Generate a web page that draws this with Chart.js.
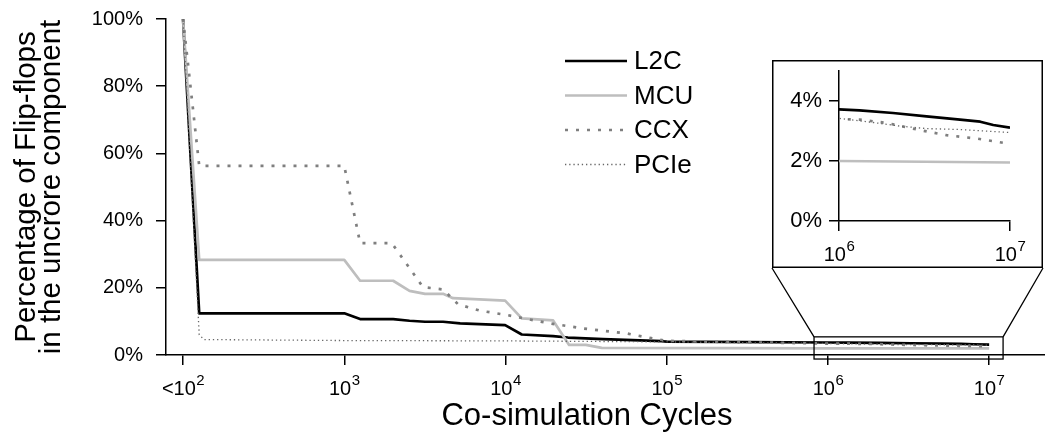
<!DOCTYPE html>
<html><head><meta charset="utf-8">
<script src="https://cdn.jsdelivr.net/npm/chart.js@4.4.1/dist/chart.umd.min.js"></script>
<style>
html,body{margin:0;padding:0;background:#fff;}
#wrap{position:relative;width:1045px;height:444px;overflow:hidden;}
#main{position:absolute;left:0;top:0;}
#inset{position:absolute;}
</style></head><body>
<div id="wrap"><canvas id="main" width="1045" height="444"></canvas><canvas id="inset"></canvas></div>
<script>
// ---------------- DATA ----------------
const seriesNames = ['L2C', 'MCU', 'CCX', 'PCIe'];

const l2cCycles = [100, 126, 1000, 1254, 2010, 2540, 3170, 4100, 5230, 9950, 12620, 19740, 24400, 40300, 93300, 1e5, 1e6, 1.32e6, 2.07e6, 3.25e6, 5.1e6, 6.7e6, 7.98e6, 1e7];
const l2cPct    = [100, 12.4, 12.4, 10.7, 10.7, 10.2, 9.9, 9.9, 9.4, 8.9, 6.1, 5.6, 5.2, 4.7, 4.1, 4.0, 3.72, 3.69, 3.60, 3.49, 3.38, 3.31, 3.2, 3.11];

const mcuCycles = [100, 126, 1000, 1254, 2010, 2540, 3170, 4100, 4730, 9950, 12620, 19740, 24800, 31500, 39500, 1e6, 1e7];
const mcuPct    = [100, 28.3, 28.3, 22.1, 22.1, 19.1, 18.2, 18.2, 16.9, 16.2, 10.9, 10.3, 3.0, 3.0, 2.1, 2.0, 1.95];

const ccxCycles = [100, 126, 1000, 1254, 1970, 3080, 4100, 5080, 6950, 10200, 18900, 30300, 56500, 80000, 1e5, 3e5, 1e6, 1.32e6, 1.89e6, 2.97e6, 4.25e6, 6.36e6, 1e7];
const ccxPct    = [100, 56.3, 56.3, 33.3, 33.3, 20.2, 19.5, 15.1, 13.2, 11.9, 9.4, 7.9, 6.4, 5.0, 4.2, 3.8, 3.4, 3.38, 3.27, 3.03, 2.86, 2.75, 2.57];

const pcieCycles = [100, 126, 135, 1000, 1e4, 1e5, 1e6, 1.5e6, 2.3e6, 3.25e6, 5.1e6, 1e7];
const pciePct    = [100, 6.0, 4.6, 4.3, 4.2, 3.9, 3.42, 3.3, 3.16, 3.08, 3.05, 2.95];

const yTickValues = [0, 20, 40, 60, 80, 100];
const xTickValues = [1e2, 1e3, 1e4, 1e5, 1e6, 1e7];
const xTickBases  = ['<10', '10', '10', '10', '10', '10'];
const xTickExps   = ['2', '3', '4', '5', '6', '7'];

const insetYTickValues = [0, 2, 4];
const insetXTickValues = [1e6, 1e7];
const insetXTickBases  = ['10', '10'];
const insetXTickExps   = ['6', '7'];

// zoomed region in data coordinates (cycles, percent)
const zoomCycles = [8.2e5, 1.22e7];
const zoomPct    = [-1.2, 5.4];

const xTitle = 'Co-simulation Cycles';
const yTitle = ['Percentage of Flip-flops', 'in the uncrore component'];

// ---------------- STYLE / LAYOUT ----------------
const FONT = "'Liberation Sans', Arial, Helvetica, sans-serif";
Chart.defaults.font.family = FONT;
Chart.defaults.color = '#000';

const seriesStyle = [
  { color: '#000000', width: 2.7, dash: [] },
  { color: '#bebebe', width: 2.7, dash: [] },
  { color: '#7f7f7f', width: 2.7, dash: [3, 8] },
  { color: '#666666', width: 1.3, dash: [1.3, 2.9] },
];
const drawOrder = [3, 2, 1, 0];

const insetBox = { left: 772, top: 60, width: 271, height: 208 };
const xTitlePos = { x: 587, y: 425, size: 31 };

function pts(xs, ys) { return xs.map((x, i) => ({ x: x, y: ys[i] })); }
const seriesData = [pts(l2cCycles, l2cPct), pts(mcuCycles, mcuPct), pts(ccxCycles, ccxPct), pts(pcieCycles, pciePct)];

function makeDatasets() {
  return seriesNames.map((name, i) => ({
    label: name,
    data: seriesData[i],
    borderColor: seriesStyle[i].color,
    borderWidth: seriesStyle[i].width,
    borderDash: seriesStyle[i].dash,
    borderCapStyle: 'butt',
    borderJoinStyle: 'round',
    pointRadius: 0,
    tension: 0,
    fill: false,
    order: drawOrder[i],
  }));
}

function drawPowerLabels(chart, values, bases, exps, baseline) {
  const ctx = chart.ctx, xs = chart.scales.x;
  const baseFont = '20px ' + FONT, expFont = '15px ' + FONT;
  ctx.save();
  ctx.fillStyle = '#000';
  ctx.textBaseline = 'alphabetic';
  ctx.textAlign = 'left';
  values.forEach((v, i) => {
    const px = xs.getPixelForValue(v);
    ctx.font = baseFont; const wb = ctx.measureText(bases[i]).width;
    ctx.font = expFont; const we = ctx.measureText(exps[i]).width;
    const start = px - (wb + we) / 2;
    ctx.font = baseFont; ctx.fillText(bases[i], start, baseline);
    ctx.font = expFont; ctx.fillText(exps[i], start + wb + 0.5, baseline - 10);
  });
  ctx.restore();
}

const axisCommon = {
  border: { display: true, color: '#000', width: 1.5 },
  grid: { display: true, drawOnChartArea: false, drawTicks: true, tickLength: 10, color: '#000', tickColor: '#000', lineWidth: 1.5, tickWidth: 1.5 },
};
function fixY(width) { return (s) => { s.width = width; s.paddingTop = 0; s.paddingBottom = 0; }; }
function fixX(height) { return (s) => { s.height = height; s.paddingLeft = 0; s.paddingRight = 0; }; }

// ---------------- MAIN CHART ----------------
const mainPlugin = {
  id: 'mainDecor',
  afterDraw(chart) {
    const ctx = chart.ctx;
    const xs = chart.scales.x, ys = chart.scales.y;
    drawPowerLabels(chart, xTickValues, xTickBases, xTickExps, 395);
    ctx.save();
    // x axis title
    ctx.fillStyle = '#000';
    ctx.font = xTitlePos.size + 'px ' + FONT;
    ctx.textAlign = 'center';
    ctx.textBaseline = 'alphabetic';
    ctx.fillText(xTitle, xTitlePos.x, xTitlePos.y);
    // zoom rectangle
    const x0 = xs.getPixelForValue(zoomCycles[0]), x1 = xs.getPixelForValue(zoomCycles[1]);
    const y0 = ys.getPixelForValue(zoomPct[1]), y1 = ys.getPixelForValue(zoomPct[0]);
    ctx.strokeStyle = '#000';
    ctx.lineWidth = 1.3;
    ctx.setLineDash([]);
    ctx.strokeRect(x0, y0, x1 - x0, y1 - y0);
    ctx.beginPath();
    ctx.moveTo(x0, y0); ctx.lineTo(insetBox.left, insetBox.top + insetBox.height);
    ctx.moveTo(x1, y0); ctx.lineTo(insetBox.left + insetBox.width, insetBox.top + insetBox.height);
    ctx.stroke();
    // legend
    const lx = 565, ly = 61, step = 34.5, len = 62;
    ctx.font = '26px ' + FONT;
    ctx.textBaseline = 'middle';
    ctx.textAlign = 'left';
    chart.data.datasets.forEach((ds, i) => {
      const y = ly + i * step;
      ctx.beginPath();
      ctx.strokeStyle = ds.borderColor;
      ctx.lineWidth = ds.borderWidth;
      ctx.setLineDash(ds.borderDash);
      ctx.moveTo(lx, y); ctx.lineTo(lx + len, y);
      ctx.stroke();
      ctx.setLineDash([]);
      ctx.fillStyle = '#000';
      ctx.fillText(ds.label, lx + len + 7, y + 1);
    });
    ctx.restore();
  }
};

new Chart(document.getElementById('main'), {
  type: 'line',
  data: { datasets: makeDatasets() },
  options: {
    responsive: false,
    animation: false,
    events: [],
    layout: { padding: { top: 19, right: 0, left: 0, bottom: 0 } },
    plugins: { legend: { display: false }, tooltip: { enabled: false } },
    scales: {
      x: {
        type: 'logarithmic',
        bounds: 'data',
        min: 78.4,
        max: 2.22e7,
        ...axisCommon,
        ticks: { display: false },
        afterBuildTicks: (s) => { s.ticks = xTickValues.map(v => ({ value: v })); },
        afterFit: fixX(89),
        title: { display: false },
      },
      y: {
        type: 'linear',
        min: 0,
        max: 100,
        ...axisCommon,
        ticks: { font: { size: 20 }, padding: 13, color: '#000', callback: (v) => v + '%' },
        afterBuildTicks: (s) => { s.ticks = yTickValues.map(v => ({ value: v })); },
        afterFit: fixY(166),
        title: { display: true, text: yTitle, font: { size: 29.5, lineHeight: 0.85 }, padding: { top: 14.5, bottom: 0 }, color: '#000' },
      },
    },
  },
  plugins: [mainPlugin],
});

// ---------------- INSET CHART ----------------
const insetCanvas = document.getElementById('inset');
insetCanvas.width = insetBox.width;
insetCanvas.height = insetBox.height;
insetCanvas.style.left = insetBox.left + 'px';
insetCanvas.style.top = insetBox.top + 'px';

const insetPlugin = {
  id: 'insetDecor',
  beforeDraw(chart) {
    const ctx = chart.ctx;
    ctx.save();
    ctx.fillStyle = '#fff';
    ctx.fillRect(0, 0, chart.width, chart.height);
    ctx.strokeStyle = '#000';
    ctx.lineWidth = 1.5;
    ctx.strokeRect(0.75, 0.75, chart.width - 1.5, chart.height - 1.5);
    ctx.restore();
  },
  afterDraw(chart) {
    drawPowerLabels(chart, insetXTickValues, insetXTickBases, insetXTickExps, 201);
  }
};

new Chart(insetCanvas, {
  type: 'line',
  data: { datasets: makeDatasets() },
  options: {
    responsive: false,
    animation: false,
    events: [],
    layout: { padding: { top: 11, right: 33, left: 0, bottom: 0 } },
    plugins: { legend: { display: false }, tooltip: { enabled: false } },
    scales: {
      x: {
        type: 'logarithmic',
        bounds: 'data',
        min: 1e6,
        max: 1e7,
        ...axisCommon,
        ticks: { display: false },
        afterBuildTicks: (s) => { s.ticks = insetXTickValues.map(v => ({ value: v })); },
        afterFit: fixX(47),
      },
      y: {
        type: 'linear',
        min: 0,
        max: 5,
        ...axisCommon,
        ticks: { font: { size: 22 }, padding: 7, color: '#000', callback: (v) => v + '%' },
        afterBuildTicks: (s) => { s.ticks = insetYTickValues.map(v => ({ value: v })); },
        afterFit: fixY(67),
      },
    },
  },
  plugins: [insetPlugin],
});
</script>
</body></html>
